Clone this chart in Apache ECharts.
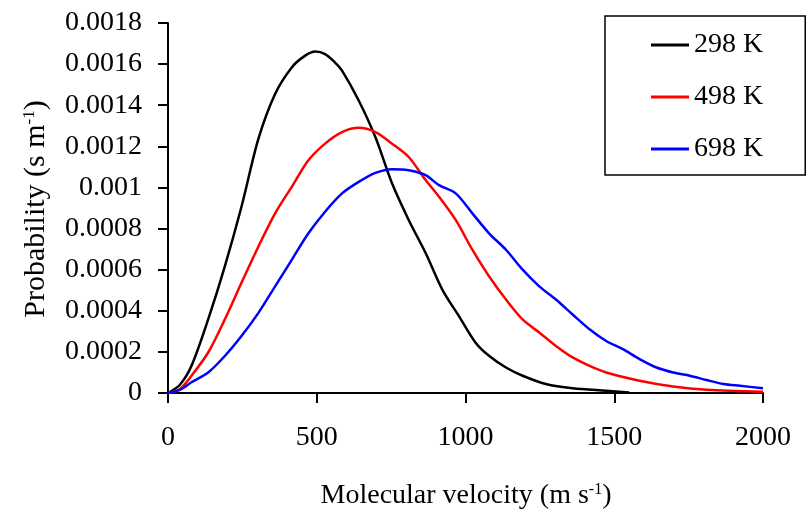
<!DOCTYPE html>
<html><head><meta charset="utf-8">
<script src="https://cdn.jsdelivr.net/npm/echarts@6/dist/echarts.min.js"></script>
<style>html,body{margin:0;padding:0;background:#fff}#c{width:809px;height:518px}</style>
</head><body><div id="c"></div>
<script>
const seriesNames = ['298 K', '498 K', '698 K'];
const v298 = [0, 40, 79, 135, 191, 247, 304, 360, 416, 460, 495, 528, 560, 585, 641, 697, 753, 809, 866, 922, 978, 1034, 1079, 1136, 1192, 1270, 1360, 1473, 1550];
const p298 = [0, 0.00004, 0.000132, 0.000358, 0.000616, 0.000906, 0.001237, 0.001455, 0.001584, 0.00164, 0.001661, 0.001649, 0.00161, 0.001568, 0.001423, 0.001245, 0.00102, 0.000842, 0.000681, 0.000503, 0.000374, 0.000245, 0.000181, 0.000124, 0.000084, 0.000044, 0.000023, 0.000011, 0.000003];
const v498 = [0, 40, 79, 135, 191, 247, 304, 360, 416, 472, 528, 585, 641, 697, 753, 809, 866, 911, 967, 1023, 1079, 1136, 1192, 1248, 1304, 1360, 1417, 1473, 1585, 1698, 1810, 2000];
const p498 = [0, 0.00002, 0.000084, 0.000197, 0.000358, 0.000536, 0.000713, 0.000874, 0.001003, 0.001132, 0.001213, 0.001269, 0.00129, 0.001269, 0.001213, 0.001148, 0.001036, 0.000955, 0.000842, 0.000697, 0.000568, 0.000455, 0.000358, 0.000294, 0.000229, 0.000173, 0.000132, 0.0001, 0.00006, 0.000032, 0.000016, 0.000006];
const v698 = [0, 40, 79, 135, 191, 247, 304, 360, 416, 472, 528, 585, 641, 697, 753, 809, 866, 911, 967, 1023, 1079, 1136, 1192, 1248, 1304, 1360, 1417, 1473, 1529, 1585, 1642, 1698, 1754, 1810, 1867, 1923, 2000];
const p698 = [0, 0.000015, 0.000052, 0.0001, 0.00018, 0.000277, 0.00039, 0.000519, 0.000648, 0.000777, 0.000882, 0.000971, 0.001027, 0.001071, 0.001089, 0.001084, 0.00106, 0.001011, 0.000971, 0.000874, 0.000777, 0.000697, 0.0006, 0.000519, 0.000455, 0.000382, 0.00031, 0.000253, 0.000213, 0.000165, 0.000124, 0.0001, 0.000084, 0.000063, 0.000044, 0.000035, 0.000023];
const xTickLabels = ['0', '500', '1000', '1500', '2000'];
const yTickLabels = ['0', '0.0002', '0.0004', '0.0006', '0.0008', '0.001', '0.0012', '0.0014', '0.0016', '0.0018'];

const colors = ['#000000', '#ff0000', '#0000ff'];
const pairs = (vs, ps) => vs.map((v, i) => [v, ps[i]]);
const FONT = '"Liberation Serif", "Times New Roman", serif';

const chart = echarts.init(document.getElementById('c'), null, {renderer: 'canvas'});
chart.setOption({
  animation: false,
  backgroundColor: '#ffffff',
  grid: {left: 168, right: 46, top: 23, bottom: 125, containLabel: false},
  xAxis: {
    type: 'value', min: 0, max: 2000, interval: 500,
    axisLine: {lineStyle: {color: '#000', width: 2}},
    axisTick: {show: true, inside: false, length: 10, lineStyle: {color: '#000', width: 2}},
    splitLine: {show: false},
    axisLabel: {margin: 31, color: '#000', fontFamily: FONT, fontSize: 28,
      formatter: (val) => xTickLabels[Math.round(val / 500)]}
  },
  yAxis: {
    type: 'value', min: 0, max: 0.0018, interval: 0.0002,
    axisLine: {show: true, lineStyle: {color: '#000', width: 2}},
    axisTick: {show: true, inside: false, length: 10, lineStyle: {color: '#000', width: 2}},
    splitLine: {show: false},
    axisLabel: {margin: 26, color: '#000', fontFamily: FONT, fontSize: 28,
      formatter: (val) => yTickLabels[Math.round(val / 0.0002)]}
  },
  legend: {
    orient: 'vertical', left: 605, top: 16,
    padding: [15, 42, 12, 46],
    itemGap: 24, itemWidth: 38, itemHeight: 3, icon: 'rect',
    borderColor: '#000', borderWidth: 1.5,
    textStyle: {color: '#000', fontFamily: FONT, fontSize: 28},
    data: seriesNames
  },
  graphic: [
    {type: 'text', x: 466, y: 496, style: {
      text: '{a|Molecular velocity (m s}{s|-1}{a|)}',
      align: 'center', verticalAlign: 'middle',
      rich: {a: {fontFamily: FONT, fontSize: 28, fill: '#000'},
             s: {fontFamily: FONT, fontSize: 16, fill: '#000', verticalAlign: 'top'}}
    }},
    {type: 'text', x: 36, y: 209, rotation: Math.PI / 2, style: {
      text: '{a|Probability (s m}{s|-1}{a|)}',
      align: 'center', verticalAlign: 'middle',
      rich: {a: {fontFamily: FONT, fontSize: 30, fill: '#000'},
             s: {fontFamily: FONT, fontSize: 17, fill: '#000', verticalAlign: 'top'}}
    }}
  ],
  series: [
    {name: seriesNames[0], type: 'line', data: pairs(v298, p298), showSymbol: false, smooth: 0.3,
      lineStyle: {color: colors[0], width: 2.5}, itemStyle: {color: colors[0]}},
    {name: seriesNames[1], type: 'line', data: pairs(v498, p498), showSymbol: false, smooth: 0.3,
      lineStyle: {color: colors[1], width: 2.5}, itemStyle: {color: colors[1]}},
    {name: seriesNames[2], type: 'line', data: pairs(v698, p698), showSymbol: false, smooth: 0.3,
      lineStyle: {color: colors[2], width: 2.5}, itemStyle: {color: colors[2]}}
  ]
});
</script></body></html>
